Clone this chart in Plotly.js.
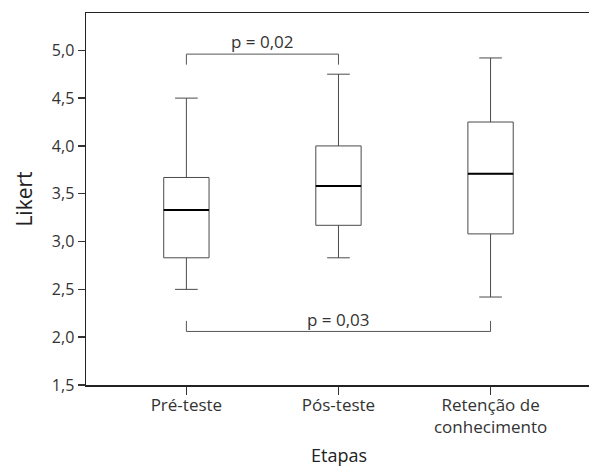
<!DOCTYPE html>
<html>
<head>
<meta charset="utf-8">
<script src="https://cdn.plot.ly/plotly-3.0.1.min.js"></script>
<style>html,body{margin:0;padding:0;background:#fff;overflow:hidden;}#chart{width:592px;height:467px;}</style>
</head>
<body>
<div id="chart"></div>
<script>
const categories = ["Pré-teste", "Pós-teste", "Retenção de<br>conhecimento"];
const lowerWhisker = [2.50, 2.83, 2.42];
const q1 = [2.83, 3.17, 3.08];
const median = [3.33, 3.58, 3.71];
const q3 = [3.67, 4.00, 4.25];
const upperWhisker = [4.50, 4.75, 4.92];
const yTicks = [1.5, 2.0, 2.5, 3.0, 3.5, 4.0, 4.5, 5.0];
const comparisons = [
  {from: 0, to: 1, y: 4.96, tip: 4.85, label: "p = 0,02", labelX: 0.5, labelY: 5.09},
  {from: 0, to: 2, y: 2.06, tip: 2.17, label: "p = 0,03", labelX: 1.0, labelY: 2.19}
];

const idx = categories.map((c, i) => i);
const boxW = 0.298;
const textColor = "#333";

const trace = {
  type: "box",
  x: idx,
  q1: q1, median: median, q3: q3,
  lowerfence: lowerWhisker, upperfence: upperWhisker,
  width: boxW,
  whiskerwidth: 0.5,
  fillcolor: "#ffffff",
  line: {color: "#4a4a4a", width: 1},
  boxpoints: false,
  hoverinfo: "skip",
  showlegend: false
};

const shapes = [];
idx.forEach(i => {
  shapes.push({type: "line", xref: "x", yref: "y", x0: i - boxW / 2, x1: i + boxW / 2, y0: median[i], y1: median[i],
    line: {color: "#000", width: 2}});
});
const annotations = [];
comparisons.forEach(c => {
  shapes.push({type: "line", xref: "x", yref: "y", x0: c.from, x1: c.to, y0: c.y, y1: c.y, line: {color: "#555", width: 1}});
  shapes.push({type: "line", xref: "x", yref: "y", x0: c.from, x1: c.from, y0: c.y, y1: c.tip, line: {color: "#555", width: 1}});
  shapes.push({type: "line", xref: "x", yref: "y", x0: c.to, x1: c.to, y0: c.y, y1: c.tip, line: {color: "#555", width: 1}});
  annotations.push({xref: "x", yref: "y", x: c.labelX, y: c.labelY, text: c.label, showarrow: false,
    font: {size: 17, color: textColor}});
});

const layout = {
  width: 592, height: 467,
  margin: {l: 86, r: 0, t: 13, b: 82},
  paper_bgcolor: "#fff", plot_bgcolor: "#fff",
  separators: ",.",
  font: {family: "Open Sans, sans-serif", size: 16, color: textColor},
  xaxis: {
    range: [-0.66, 2.667],
    tickvals: idx, ticktext: categories,
    ticks: "outside", ticklen: 8, tickcolor: "#333", tickwidth: 1.5,
    ticklabelstandoff: -4,
    showline: true, linecolor: "#222", linewidth: 1.5, mirror: true,
    showgrid: false, zeroline: false,
    tickfont: {size: 17, color: textColor},
    title: {text: "Etapas", font: {size: 18, color: "#222"}, standoff: 16},
    automargin: false
  },
  yaxis: {
    range: [1.5, 5.39],
    tickvals: yTicks, tickformat: ".1f",
    ticks: "outside", ticklen: 7, tickcolor: "#333", tickwidth: 1.5,
    showline: true, linecolor: "#222", linewidth: 1.5,
    showgrid: false, zeroline: false,
    tickfont: {size: 16, color: textColor},
    title: {text: "Likert", font: {size: 21, color: "#222"}, standoff: 13},
    automargin: false
  },
  shapes: shapes,
  annotations: annotations
};

Plotly.newPlot("chart", [trace], layout, {staticPlot: true, displayModeBar: false});
</script>
</body>
</html>
